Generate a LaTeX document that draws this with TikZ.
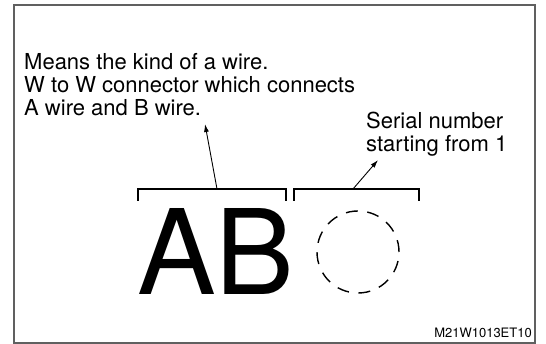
\documentclass[tikz,border=0pt]{standalone}
\usepackage{fontspec}
\setmainfont{TeX Gyre Heros}
\usetikzlibrary{arrows.meta}

\tikzset{
  txt/.style={anchor=base west, inner sep=0pt, font=\fontsize{22}{23}\selectfont},
  brk/.style={line width=1.2pt},
  lead/.style={line width=0.9pt, -{Latex[length=8pt,width=5pt]}},
}

\begin{document}
\begin{tikzpicture}[x=1pt,y=-1pt]
    \useasboundingbox (0,0) rectangle (546,344);
    \draw[gray!75!black, line width=1.3pt] (14,5) rectangle (535,343);

    \node[txt] (l1) at ( 24, 70) {Means the kind of a wire.};
    \node[txt] (l2) at ( 24, 93) {W to W connector which connects};
    \node[txt] (l3) at ( 24,116) {A wire and B wire.};
    \node[txt] (s1) at (366,129) {Serial number};
    \node[txt] (s2) at (366,152) {starting from 1};

    \node[anchor=base west, inner sep=0pt, font=\fontsize{118}{118}\selectfont] (ab) at (137,295) {AB};
    \node[circle, draw, dashed, line width=1.4pt, dash pattern=on 12pt off 9.5pt,
          minimum size=82pt, inner sep=0pt] (num) at (358,252) {};

    \node[anchor=base east, inner sep=0pt, font=\fontsize{13}{13}\selectfont] (code) at (532,338) {M21W1013ET10};

    % brackets over the letters and the circle
    \draw[brk] (138,201) -- (138,189) -- (286,189) -- (286,201);
    \draw[brk] (294,201) -- (294,189) -- (419,189) -- (419,201);

    \coordinate (b1) at (217,189);
    \coordinate (b2) at (353,189);
    \coordinate (t1) at (205,124);
    \coordinate (t2) at (378,160);

    \begin{scope}[every path/.style={lead}]
       \draw (b1) -- (t1);
       \draw (b2) -- (t2);
    \end{scope}

\end{tikzpicture}
\end{document}
